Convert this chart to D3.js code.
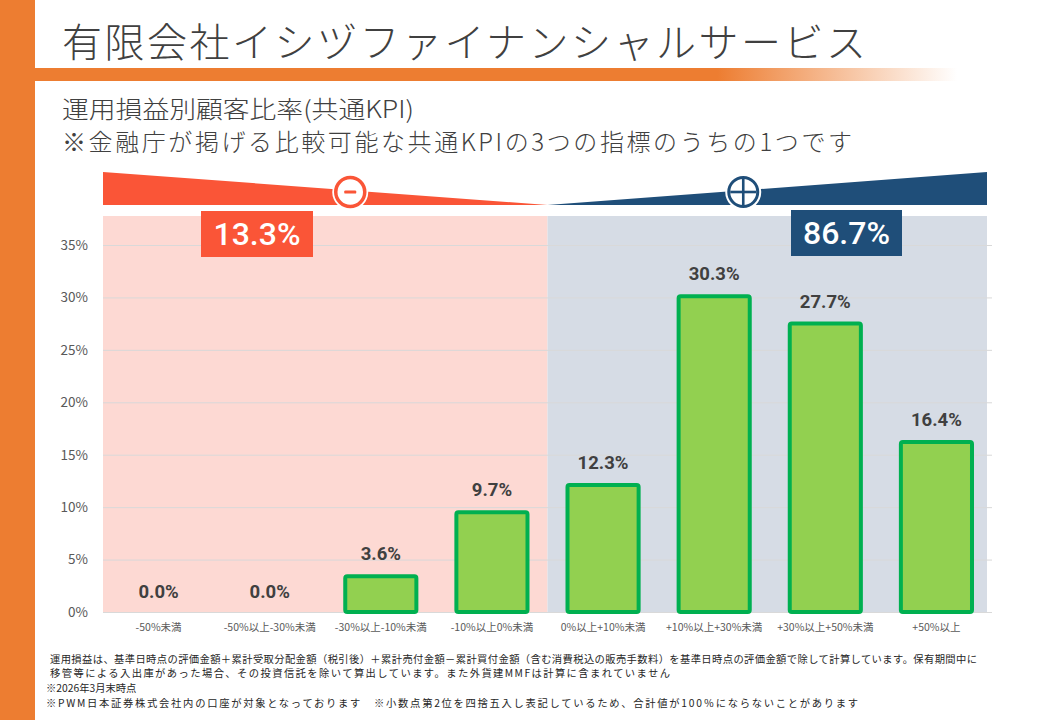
<!DOCTYPE html>
<html><head><meta charset="utf-8">
<script src="https://cdn.jsdelivr.net/npm/d3@7"></script>
<style>
html,body{margin:0;padding:0;background:#fff;}
svg{display:block;}
text{font-family:"Noto Sans CJK JP","Noto Sans",sans-serif;}
</style></head>
<body>
<svg id="chart" width="1040" height="720"></svg>
<script>
// ---- data ----
const title = "有限会社イシヅファイナンシャルサービス";
const subtitle1 = "運用損益別顧客比率(共通KPI)";
const subtitle2 = "※金融庁が掲げる比較可能な共通KPIの3つの指標のうちの1つです";
const categories = ["-50%未満","-50%以上-30%未満","-30%以上-10%未満","-10%以上0%未満","0%以上+10%未満","+10%以上+30%未満","+30%以上+50%未満","+50%以上"];
const values = [0.0, 0.0, 3.6, 9.7, 12.3, 30.3, 27.7, 16.4];
const yTicks = [0, 5, 10, 15, 20, 25, 30, 35];
const lossCategories = categories.slice(0, 4);
const gainCategories = categories.slice(4);
const footnotes = [
  "運用損益は、基準日時点の評価金額＋累計受取分配金額（税引後）＋累計売付金額－累計買付金額（含む消費税込の販売手数料）を基準日時点の評価金額で除して計算しています。保有期間中に",
  "移管等による入出庫があった場合、その投資信託を除いて算出しています。また外貨建MMFは計算に含まれていません",
  "※2026年3月末時点",
  "※PWM日本証券株式会社内の口座が対象となっております　※小数点第2位を四捨五入し表記しているため、合計値が100％にならないことがあります"
];

// ---- setup ----
const svg = d3.select("#chart");
const ORANGE = "#ED7D31", RED = "#FA5537", NAVY = "#1F4E79";
const defs = svg.append("defs");
const grad = defs.append("linearGradient").attr("id","fade").attr("x1","0").attr("x2","1");
grad.append("stop").attr("offset","0").attr("stop-color",ORANGE);
grad.append("stop").attr("offset","0.74").attr("stop-color",ORANGE);
grad.append("stop").attr("offset","1").attr("stop-color",ORANGE).attr("stop-opacity",0);

// left orange band
svg.append("rect").attr("x",0).attr("y",0).attr("width",35).attr("height",720).attr("fill",ORANGE);
// title underline
svg.append("rect").attr("x",35).attr("y",68).attr("width",922).attr("height",13).attr("fill","url(#fade)");

svg.append("text").attr("x",62).attr("y",57).attr("font-size",40).attr("font-weight",300)
  .attr("fill","#404040").attr("textLength",804).attr("lengthAdjust","spacing").text(title);
svg.append("text").attr("x",62).attr("y",118).attr("font-size",24).attr("font-weight",300)
  .attr("fill","#404040").attr("textLength",352).attr("lengthAdjust","spacingAndGlyphs").text(subtitle1);
svg.append("text").attr("x",62).attr("y",151).attr("font-size",24).attr("font-weight",300)
  .attr("fill","#404040").attr("textLength",790).attr("lengthAdjust","spacing").text(subtitle2);

// ---- scales ----
const x = d3.scaleBand().domain(categories).range([103, 992]).paddingInner(0.36).paddingOuter(0.18);
const y = d3.scaleLinear().domain([0, 35]).range([612, 245]);
const gap = (x.step() - x.bandwidth()) / 2;
const left0 = x(categories[0]) - gap;
const mid = x(gainCategories[0]) - gap;
const right0 = x(categories[categories.length-1]) + x.bandwidth() + gap - 5;

// background panels
svg.append("rect").attr("x",left0).attr("y",216).attr("width",mid-left0).attr("height",y(0)-216).attr("fill","#FDD9D3");
svg.append("rect").attr("x",mid).attr("y",216).attr("width",right0-mid).attr("height",y(0)-216).attr("fill","#D6DCE5");

// wedges
svg.append("path").attr("d",`M${left0},172 L${mid},205 L${left0},205 Z`).attr("fill",RED);
svg.append("path").attr("d",`M${mid},205 L${right0},172 L${right0},205 Z`).attr("fill",NAVY);

// minus / plus icons
const cxMinus = (left0 + mid) / 2 + 25, cxPlus = (mid + right0) / 2 - 24, cyIcon = 192;
svg.append("circle").attr("cx",cxMinus).attr("cy",cyIcon).attr("r",18).attr("fill","#fff");
svg.append("circle").attr("cx",cxMinus).attr("cy",cyIcon).attr("r",14.5).attr("fill","#fff").attr("stroke",RED).attr("stroke-width",3.5);
svg.append("rect").attr("x",cxMinus-6).attr("y",cyIcon-1.6).attr("width",12).attr("height",3.2).attr("rx",1.2).attr("fill",RED);
svg.append("circle").attr("cx",cxPlus).attr("cy",cyIcon).attr("r",18).attr("fill","#fff");
svg.append("circle").attr("cx",cxPlus).attr("cy",cyIcon).attr("r",14.5).attr("fill","#fff").attr("stroke",NAVY).attr("stroke-width",3);
svg.append("line").attr("x1",cxPlus-13).attr("x2",cxPlus+13).attr("y1",cyIcon).attr("y2",cyIcon).attr("stroke",NAVY).attr("stroke-width",2.6);
svg.append("line").attr("x1",cxPlus).attr("x2",cxPlus).attr("y1",cyIcon-13).attr("y2",cyIcon+13).attr("stroke",NAVY).attr("stroke-width",2.6);

// gridlines + y axis
const grid = svg.append("g").attr("transform",`translate(${left0},0)`)
  .call(d3.axisLeft(y).tickValues(yTicks).tickSize(-(x.range()[1]-left0)).tickFormat(""));
grid.select(".domain").remove();
grid.selectAll(".tick line").attr("stroke","#D9D9D9").attr("stroke-width",1);

const yAxis = svg.append("g").attr("transform",`translate(88,0)`)
  .call(d3.axisLeft(y).tickValues(yTicks).tickSize(0).tickPadding(0).tickFormat(d => d + "%"));
yAxis.select(".domain").remove();
yAxis.selectAll("text").attr("font-size",13.5).attr("fill","#595959")
  .style("font-family",'"Noto Sans CJK JP",sans-serif');

// total boxes
const lossTotal = d3.sum(values.slice(0,4)).toFixed(1) + "%";
const gainTotal = d3.sum(values.slice(4)).toFixed(1) + "%";
svg.append("rect").attr("x",201).attr("y",211).attr("width",112).attr("height",46).attr("fill",RED);
svg.append("text").attr("x",257).attr("y",245).attr("text-anchor","middle").attr("font-size",32).attr("font-weight",500)
  .attr("fill","#fff").style("font-family","Roboto,'Noto Sans',sans-serif").text(lossTotal);
svg.append("rect").attr("x",791).attr("y",210).attr("width",111).attr("height",46).attr("fill",NAVY);
svg.append("text").attr("x",846.5).attr("y",244).attr("text-anchor","middle").attr("font-size",32).attr("font-weight",500)
  .attr("fill","#fff").style("font-family","Roboto,'Noto Sans',sans-serif").text(gainTotal);

// bars
const sw = 4;
svg.append("g").selectAll("rect").data(values.map((v,i)=>({c:categories[i],v})).filter(d=>d.v>0))
  .join("rect")
  .attr("x", d => x(d.c))
  .attr("y", d => y(d.v) + sw/2)
  .attr("width", x.bandwidth())
  .attr("height", d => y(0) - y(d.v) - sw/2)
  .attr("rx", 2)
  .attr("fill", "#92D050").attr("stroke","#00B050").attr("stroke-width",sw);

// value labels
svg.append("g").selectAll("text").data(values.map((v,i)=>({c:categories[i],v})))
  .join("text")
  .attr("x", d => x(d.c) + x.bandwidth()/2)
  .attr("y", d => y(d.v) - 14)
  .attr("text-anchor","middle").attr("font-size",18.5).attr("font-weight",700).attr("fill","#404040")
  .style("font-family","Roboto,'Noto Sans',sans-serif")
  .text(d => d.v.toFixed(1) + "%");

// x axis labels
const xAxis = svg.append("g").attr("transform",`translate(0,${y(0)})`)
  .call(d3.axisBottom(x).tickSize(0).tickPadding(12));
xAxis.select(".domain").remove();
xAxis.selectAll("text").attr("font-size",10.5).attr("fill","#595959")
  .style("font-family",'"Noto Sans CJK JP",sans-serif');

// footnotes
const fn = svg.append("g");
const fnPos = [[50,663,927],[50,677,620],[46,692,null],[46,707,812]];
footnotes.forEach((t,i) => {
  const tx = fn.append("text").attr("x",fnPos[i][0]).attr("y",fnPos[i][1]).attr("font-size",10.3)
    .attr("fill","#262626").text(t);
  if (fnPos[i][2]) tx.attr("textLength",fnPos[i][2]).attr("lengthAdjust","spacing");
});
</script>
</body></html>
